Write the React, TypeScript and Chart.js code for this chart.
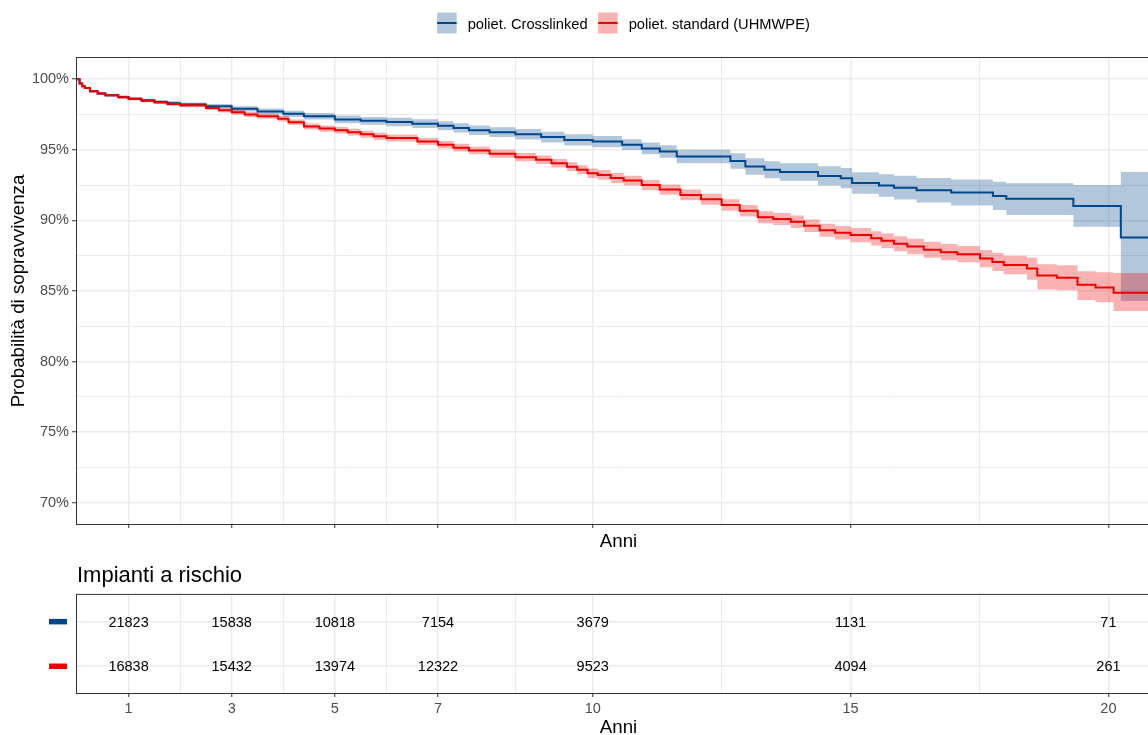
import React, { useEffect, useRef } from 'react';
import { Chart, registerables } from 'chart.js';

Chart.register(...registerables);

const FONT = "'Liberation Sans', Arial, sans-serif";

// ---------- data ----------
const groupLabels = ['poliet. Crosslinked', 'poliet. standard (UHMWPE)'];

const blueTime = [0, 0.05, 0.1, 0.15, 0.25, 0.4, 0.55, 0.8, 1.0, 1.25, 1.5, 1.75, 2.0, 2.5, 3.0, 3.5, 4.0, 4.4, 5.0, 5.5, 6.0, 6.5, 7.0, 7.3, 7.6, 8.0, 8.5, 9.0, 9.45, 10.0, 10.57, 10.95, 11.3, 11.63, 12.67, 12.96, 13.33, 13.63, 14.37, 14.81, 15.03, 15.55, 15.84, 16.28, 16.95, 17.76, 18.02, 19.32, 20.24, 21];
const blueSurv = [100, 99.7, 99.5, 99.38, 99.15, 98.98, 98.86, 98.74, 98.62, 98.5, 98.39, 98.3, 98.2, 98.08, 97.9, 97.72, 97.55, 97.38, 97.15, 97.05, 96.97, 96.85, 96.7, 96.55, 96.38, 96.25, 96.1, 95.9, 95.7, 95.58, 95.36, 95.1, 94.88, 94.52, 94.2, 93.82, 93.58, 93.42, 93.15, 92.99, 92.65, 92.47, 92.32, 92.14, 91.97, 91.73, 91.54, 91.02, 88.78, 88.78];
const blueLower = [100, 99.65, 99.44, 99.31, 99.07, 98.89, 98.77, 98.64, 98.51, 98.38, 98.26, 98.16, 98.05, 97.92, 97.72, 97.52, 97.33, 97.15, 96.88, 96.77, 96.67, 96.54, 96.38, 96.22, 96.04, 95.9, 95.73, 95.52, 95.3, 95.18, 94.98, 94.69, 94.44, 94.04, 93.65, 93.24, 92.98, 92.8, 92.47, 92.27, 91.89, 91.67, 91.48, 91.27, 91.05, 90.73, 90.38, 89.55, 84.3, 84.3];
const blueUpper = [100, 99.75, 99.56, 99.45, 99.23, 99.07, 98.95, 98.84, 98.73, 98.62, 98.52, 98.44, 98.35, 98.24, 98.08, 97.92, 97.77, 97.61, 97.42, 97.33, 97.27, 97.16, 97.02, 96.88, 96.72, 96.6, 96.47, 96.28, 96.1, 95.98, 95.74, 95.51, 95.32, 95.0, 94.75, 94.4, 94.18, 94.04, 93.83, 93.71, 93.41, 93.27, 93.16, 93.01, 92.89, 92.73, 92.63, 92.51, 93.42, 93.42];

const redTime = [0, 0.05, 0.1, 0.15, 0.25, 0.4, 0.55, 0.8, 1.0, 1.25, 1.5, 1.75, 2.0, 2.5, 2.75, 3.0, 3.25, 3.5, 3.9, 4.1, 4.4, 4.7, 5.0, 5.25, 5.5, 5.75, 6.0, 6.6, 7.0, 7.3, 7.6, 8.0, 8.5, 8.9, 9.2, 9.5, 9.7, 9.9, 10.1, 10.35, 10.6, 10.95, 11.3, 11.7, 12.1, 12.5, 12.85, 13.2, 13.5, 13.84, 14.1, 14.4, 14.7, 15.0, 15.4, 15.6, 15.84, 16.1, 16.42, 16.75, 17.07, 17.51, 17.75, 17.97, 18.42, 18.62, 19.0, 19.4, 19.75, 20.1, 21];
const redSurv = [100, 99.7, 99.5, 99.38, 99.15, 98.98, 98.86, 98.72, 98.6, 98.48, 98.36, 98.25, 98.15, 97.96, 97.8, 97.65, 97.5, 97.37, 97.2, 96.95, 96.65, 96.5, 96.38, 96.25, 96.1, 95.95, 95.83, 95.59, 95.36, 95.15, 94.95, 94.72, 94.48, 94.3, 94.05, 93.8, 93.58, 93.34, 93.22, 93.0, 92.82, 92.5, 92.18, 91.8, 91.5, 91.09, 90.68, 90.22, 90.1, 89.9, 89.62, 89.3, 89.13, 88.96, 88.73, 88.55, 88.35, 88.15, 87.92, 87.75, 87.61, 87.3, 87.05, 86.84, 86.6, 86.1, 85.93, 85.45, 85.25, 84.88, 84.88];
const redLower = [100, 99.65, 99.44, 99.31, 99.07, 98.89, 98.77, 98.62, 98.5, 98.37, 98.24, 98.12, 98.01, 97.81, 97.64, 97.48, 97.33, 97.19, 97.01, 96.75, 96.44, 96.28, 96.15, 96.01, 95.86, 95.7, 95.58, 95.34, 95.1, 94.88, 94.68, 94.44, 94.19, 94.0, 93.75, 93.49, 93.26, 93.01, 92.88, 92.65, 92.47, 92.14, 91.81, 91.42, 91.11, 90.69, 90.27, 89.8, 89.67, 89.46, 89.17, 88.84, 88.65, 88.46, 88.22, 88.03, 87.82, 87.6, 87.36, 87.18, 87.03, 86.69, 86.41, 86.18, 85.8, 85.1, 85.06, 84.37, 84.2, 83.59, 83.59];
const redUpper = [100, 99.75, 99.56, 99.45, 99.23, 99.07, 98.95, 98.82, 98.7, 98.59, 98.48, 98.38, 98.29, 98.11, 97.96, 97.82, 97.67, 97.55, 97.39, 97.15, 96.86, 96.72, 96.61, 96.49, 96.34, 96.2, 96.08, 95.84, 95.62, 95.42, 95.22, 95.0, 94.77, 94.6, 94.35, 94.11, 93.9, 93.67, 93.56, 93.35, 93.17, 92.86, 92.55, 92.18, 91.89, 91.49, 91.09, 90.64, 90.53, 90.34, 90.07, 89.76, 89.61, 89.46, 89.24, 89.07, 88.88, 88.7, 88.48, 88.32, 88.19, 87.91, 87.69, 87.5, 87.35, 86.9, 86.83, 86.4, 86.33, 86.27, 86.27];

const xMajorTicks = [1, 3, 5, 7, 10, 15, 20];
const xMinorTicks = [2, 4, 6, 8.5, 12.5, 17.5];
const yMajorTicks = [70, 75, 80, 85, 90, 95, 100];
const yMinorTicks = [72.5, 77.5, 82.5, 87.5, 92.5, 97.5];

const riskTimes = [1, 3, 5, 7, 10, 15, 20];
const riskCrosslinked = [21823, 15838, 10818, 7154, 3679, 1131, 71];
const riskStandard = [16838, 15432, 13974, 12322, 9523, 4094, 261];

// ---------- styles ----------
const BLUE = '#00468B';
const RED = '#ED0000';
const BLUE_BAND = 'rgba(0,70,139,0.3)';
const RED_BAND = 'rgba(237,0,0,0.3)';
const GRID = '#EBEBEB';
const BORDER = '#333333';
const TICK_TXT = '#4D4D4D';

const isMajorX = (v: number) => xMajorTicks.includes(v);
const isMajorY = (v: number) => yMajorTicks.includes(v);
const pts = (t: number[], v: number[]) => t.map((x, i) => ({ x, y: v[i] }));
const sortNum = (a: number[]) => [...a].sort((p, q) => p - q);

const panelBorder = {
  id: 'panelBorder',
  afterDraw(chart: any) {
    const { ctx, chartArea: a } = chart;
    ctx.save();
    ctx.strokeStyle = BORDER;
    ctx.lineWidth = 1;
    ctx.strokeRect(a.left - 0.5, a.top - 0.5, a.right - a.left + 1, a.bottom - a.top + 1);
    ctx.restore();
  },
};

const kmLegend = {
  id: 'kmLegend',
  afterDraw(chart: any) {
    const { ctx, chartArea: a } = chart;
    const items = [
      { label: groupLabels[0], line: BLUE, fill: BLUE_BAND },
      { label: groupLabels[1], line: RED, fill: RED_BAND },
    ];
    ctx.save();
    ctx.font = `14.7px ${FONT}`;
    const widths = items.map((it) => ctx.measureText(it.label).width);
    const keyW = 19.5, keyH = 21, gapKT = 11, gapItems = 10.5;
    const total = items.length * (keyW + gapKT) + widths.reduce((s, w) => s + w, 0) + gapItems * (items.length - 1);
    let x = (a.left + a.right) / 2 + 5 - total / 2;
    const cy = 23;
    items.forEach((it, i) => {
      ctx.fillStyle = it.fill;
      ctx.fillRect(x, cy - keyH / 2, keyW, keyH);
      ctx.strokeStyle = it.line;
      ctx.lineWidth = 2;
      ctx.beginPath();
      ctx.moveTo(x, cy);
      ctx.lineTo(x + keyW, cy);
      ctx.stroke();
      ctx.fillStyle = '#000';
      ctx.textAlign = 'left';
      ctx.textBaseline = 'middle';
      ctx.fillText(it.label, x + keyW + gapKT, cy + 1.5);
      x += keyW + gapKT + widths[i] + gapItems;
    });
    ctx.restore();
  },
};

const riskText = {
  id: 'riskText',
  afterDatasetsDraw(chart: any) {
    const { ctx } = chart;
    ctx.save();
    ctx.font = `14.5px ${FONT}`;
    ctx.fillStyle = '#000';
    ctx.textAlign = 'center';
    ctx.textBaseline = 'middle';
    chart.data.datasets.forEach((ds: any, i: number) => {
      const meta = chart.getDatasetMeta(i);
      meta.data.forEach((el: any, j: number) => {
        ctx.fillText(String(ds.counts[j]), el.x, el.y + 1);
      });
    });
    ctx.restore();
  },
};

const riskRowKeys = {
  id: 'riskRowKeys',
  afterDraw(chart: any) {
    const { ctx, chartArea: a, scales } = chart;
    ctx.save();
    chart.data.datasets.forEach((ds: any) => {
      const y = scales.y.getPixelForValue(ds.data[0].y);
      ctx.fillStyle = ds.rowColor;
      ctx.fillRect(a.left - 28, y - 2.75, 18, 5.5);
    });
    ctx.restore();
  },
};

const xGrid = (tickLength: number) => ({
  color: GRID,
  lineWidth: (c: any) => (c.tick && isMajorX(c.tick.value) ? 1.5 : 1),
  tickColor: (c: any) => (c.tick && isMajorX(c.tick.value) ? BORDER : 'rgba(0,0,0,0)'),
  tickWidth: 1,
  tickLength,
  drawTicks: true,
});

export default function App() {
  const mainRef = useRef<HTMLCanvasElement>(null);
  const tableRef = useRef<HTMLCanvasElement>(null);

  useEffect(() => {
    Chart.defaults.font.family = FONT;
    Chart.defaults.color = '#000';

    const line = (data: any, color: string, width: number, fill: any, bg?: string) => ({
      data,
      borderColor: color,
      borderWidth: width,
      backgroundColor: bg || 'rgba(0,0,0,0)',
      fill,
      stepped: 'before' as const,
      pointRadius: 0,
      tension: 0,
    });

    const main = new Chart(mainRef.current as HTMLCanvasElement, {
      type: 'line',
      data: {
        datasets: [
          { label: groupLabels[1], ...line(pts(redTime, redSurv), RED, 2, false) },
          { label: groupLabels[0], ...line(pts(blueTime, blueSurv), BLUE, 2, false) },
          { label: 'redLower', ...line(pts(redTime, redLower), 'rgba(0,0,0,0)', 0, false) },
          { label: 'redUpper', ...line(pts(redTime, redUpper), 'rgba(0,0,0,0)', 0, '-1', RED_BAND) },
          { label: 'blueLower', ...line(pts(blueTime, blueLower), 'rgba(0,0,0,0)', 0, false) },
          { label: 'blueUpper', ...line(pts(blueTime, blueUpper), 'rgba(0,0,0,0)', 0, '-1', BLUE_BAND) },
        ] as any,
      },
      options: {
        responsive: false,
        animation: false,
        events: [],
        layout: { padding: { top: 58, right: 20, left: 0, bottom: 0 } },
        plugins: {
          legend: { display: false },
          tooltip: { enabled: false },
          title: { display: false },
          filler: { drawTime: 'beforeDatasetsDraw', propagate: false },
        } as any,
        scales: {
          x: {
            type: 'linear',
            min: 0,
            max: 21,
            afterBuildTicks: (s: any) => {
              s.ticks = sortNum([...xMajorTicks, ...xMinorTicks]).map((v) => ({ value: v }));
            },
            afterFit: (s: any) => {
              s.height = 29;
            },
            ticks: { display: false, autoSkip: false },
            grid: xGrid(4) as any,
            border: { display: false },
            title: { display: true, text: 'Anni', color: '#000', font: { size: 18.7 }, padding: 0 },
          },
          y: {
            type: 'linear',
            min: 68.5,
            max: 101.5,
            afterBuildTicks: (s: any) => {
              s.ticks = sortNum([...yMajorTicks, ...yMinorTicks]).map((v) => ({ value: v }));
            },
            afterFit: (s: any) => {
              s.width = 77;
            },
            ticks: {
              autoSkip: false,
              color: TICK_TXT,
              font: { size: 14.5 },
              padding: 3,
              callback: (v: any) => (isMajorY(v) ? `${v}%` : ''),
            },
            grid: {
              color: GRID,
              lineWidth: (c: any) => (c.tick && isMajorY(c.tick.value) ? 1.5 : 1),
              tickColor: (c: any) => (c.tick && isMajorY(c.tick.value) ? BORDER : 'rgba(0,0,0,0)'),
              tickWidth: 1,
              tickLength: 5,
            } as any,
            border: { display: false },
            title: {
              display: true,
              text: 'Probabilità di sopravvivenza',
              color: '#000',
              font: { size: 18.7 },
              padding: { top: 8, bottom: 0 },
            },
          },
        },
      } as any,
      plugins: [panelBorder, kmLegend],
    });

    const table = new Chart(tableRef.current as HTMLCanvasElement, {
      type: 'scatter',
      data: {
        datasets: [
          {
            label: groupLabels[0],
            data: riskTimes.map((t) => ({ x: t, y: 2 })),
            counts: riskCrosslinked,
            rowColor: BLUE,
            pointRadius: 0,
          },
          {
            label: groupLabels[1],
            data: riskTimes.map((t) => ({ x: t, y: 1 })),
            counts: riskStandard,
            rowColor: RED,
            pointRadius: 0,
          },
        ] as any,
      },
      options: {
        responsive: false,
        animation: false,
        events: [],
        layout: { padding: { top: 0, right: 20, left: 0, bottom: 0 } },
        plugins: {
          legend: { display: false },
          tooltip: { enabled: false },
          title: {
            display: true,
            text: 'Impianti a rischio',
            align: 'start',
            fullSize: false,
            color: '#000',
            font: { size: 22, weight: 'normal' },
            padding: { top: 8, bottom: 5.5 },
          },
        } as any,
        scales: {
          x: {
            type: 'linear',
            min: 0,
            max: 21,
            afterBuildTicks: (s: any) => {
              s.ticks = sortNum([...xMajorTicks, ...xMinorTicks]).map((v) => ({ value: v }));
            },
            afterFit: (s: any) => {
              s.height = 46;
            },
            ticks: {
              autoSkip: false,
              maxRotation: 0,
              minRotation: 0,
              color: TICK_TXT,
              font: { size: 14.5 },
              padding: 3,
              callback: (v: any) => (isMajorX(v) ? String(v) : ''),
            },
            grid: xGrid(4) as any,
            border: { display: false },
            title: { display: true, text: 'Anni', color: '#000', font: { size: 18.7 }, padding: 0 },
          },
          y: {
            type: 'linear',
            min: 0.4,
            max: 2.6,
            afterBuildTicks: (s: any) => {
              s.ticks = [{ value: 1 }, { value: 2 }];
            },
            afterFit: (s: any) => {
              s.width = 77;
            },
            ticks: { display: false },
            grid: { color: GRID, lineWidth: 1.5, drawTicks: false },
            border: { display: false },
          },
        },
      } as any,
      plugins: [panelBorder, riskText, riskRowKeys],
    });

    return () => {
      main.destroy();
      table.destroy();
    };
  }, []);

  return (
    <div
      style={{
        position: 'fixed',
        left: 0,
        top: 0,
        width: 1148,
        height: 735,
        overflow: 'hidden',
        background: '#fff',
      }}
    >
      <canvas ref={mainRef} width={1180} height={553} style={{ position: 'absolute', left: 0, top: 0 }} />
      <canvas ref={tableRef} width={1180} height={184} style={{ position: 'absolute', left: 0, top: 555 }} />
    </div>
  );
}
